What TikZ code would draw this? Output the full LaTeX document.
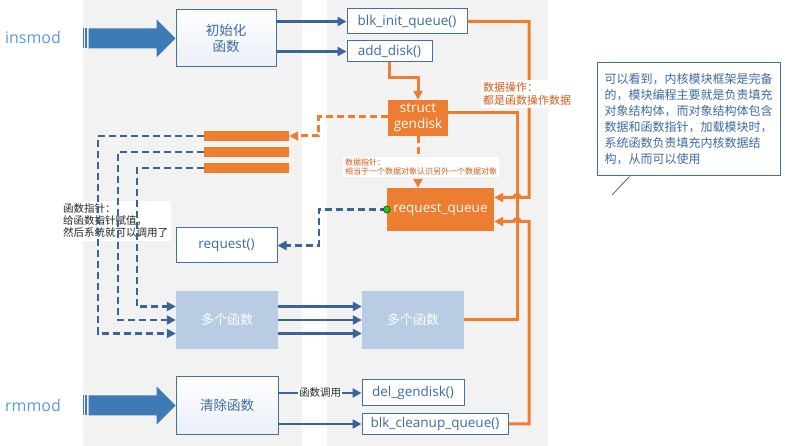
\documentclass[tikz,border=0pt]{standalone}
\usepackage{fontspec}
\setmainfont{Open Sans}
\newfontfamily\cjk{Noto Sans CJK SC}
\usetikzlibrary{arrows.meta}
\definecolor{panelgray}{RGB}{242,242,242}
\definecolor{boxblue}{RGB}{65,113,156}
\definecolor{textblue}{RGB}{62,106,160}
\definecolor{lineblue}{RGB}{58,99,150}
\definecolor{arrowblue}{RGB}{62,123,182}
\definecolor{modblue}{RGB}{91,155,213}
\definecolor{fillblue}{RGB}{184,204,228}
\definecolor{shadeblue}{RGB}{234,240,248}
\definecolor{dataorange}{RGB}{237,125,49}
\definecolor{textorange}{RGB}{205,95,28}
\definecolor{dotgreen}{RGB}{40,190,40}
\tikzset{
  whitebox/.style={draw=boxblue,line width=1pt,fill=white,text=textblue,inner sep=0pt,
    font=\fontsize{13.5}{16}\selectfont},
  modbox/.style={whitebox,minimum width=100pt,minimum height=57pt,align=center,
    top color=white,bottom color=shadeblue,font=\cjk\fontsize{13.5}{15.5}\selectfont},
  funcbox/.style={fill=fillblue,text=white,minimum width=102pt,minimum height=58pt,inner sep=0pt,
    font=\cjk\fontsize{13}{15}\selectfont},
  databox/.style={fill=dataorange,text=white,inner sep=0pt,font=\fontsize{13.5}{16}\selectfont},
  bar/.style={fill=dataorange,minimum width=85pt,minimum height=10pt,inner sep=0pt},
  modtext/.style={text=modblue,inner sep=0pt,font=\fontsize{16}{18}\selectfont},
  datatext/.style={fill=white,text=textorange,align=left,inner sep=2pt,
    font=\cjk\fontsize{11}{13}\selectfont},
  calltext/.style={fill=white,text=black!85,inner sep=1pt,font=\cjk\fontsize{10.5}{12}\selectfont},
  notebox/.style={draw=boxblue,line width=1pt,fill=white,text=textblue,align=left,
    minimum width=183pt,minimum height=113pt,inner sep=0pt,font=\cjk\fontsize{12}{16}\selectfont},
  callline/.style={draw=lineblue,line width=2.6pt,->},
  ptrline/.style={callline,dash pattern=on 7pt off 4pt},
  datawire/.style={draw=dataorange,line width=3pt},
  dataline/.style={datawire,->},
  dataptrline/.style={dataline,dash pattern=on 7pt off 4pt},
  bigarrow/.style={fill=arrowblue}
}
\begin{document}
\begin{tikzpicture}[x=1pt,y=-1pt,>={Triangle[length=9pt,width=9pt]}]
\useasboundingbox (0,0) rectangle (785,446);
\fill[panelgray] (83,0) rectangle (302,446);
\fill[panelgray] (327,0) rectangle (548,446);

% label under the pointer lines
\node[calltext,anchor=west,align=left,inner sep=3pt] (fnlabel) at (60,221) {函数指针：\\给函数指针赋值，\\然后系统就可以调用了};

% nodes
\node[modtext] (insmodtxt) at (33,38) {insmod};
\node[modtext] (rmmodtxt) at (33,405) {rmmod};
\node[modbox] (init) at (226,38.5) {初始化\\函数};
\node[modbox,minimum width=102pt] (clean) at (227,405.5) {清除函数};
\node[whitebox,minimum width=120pt,minimum height=25pt] (blkinit) at (407,21.5) {blk\_init\_queue()};
\node[whitebox,minimum width=85pt,minimum height=21pt] (adddisk) at (389.5,51.5) {add\_disk()};
\node[databox,minimum width=60pt,minimum height=36pt,align=center] (gendisk) at (418,118) {struct\\gendisk};
\node[bar] (bar1) at (246.5,136) {};
\node[bar] (bar2) at (246.5,152) {};
\node[bar] (bar3) at (246.5,168) {};
\node[databox,minimum width=107pt,minimum height=43pt] (rq) at (440.5,209.5) {request\_queue};
\node[whitebox,minimum width=101pt,minimum height=35pt] (req) at (226.5,245.5) {request()};
\node[funcbox] (multiL) at (227,320) {多个函数};
\node[funcbox] (multiR) at (413,320) {多个函数};
\node[whitebox,minimum width=102pt,minimum height=26pt] (delgd) at (413,393) {del\_gendisk()};
\node[whitebox,minimum width=146pt,minimum height=20pt] (blkclean) at (435,424) {blk\_cleanup\_queue()};
\node[notebox] (note) at (688.5,119.5) {可以看到，内核模块框架是完备\\的，模块编程主要就是负责填充\\对象结构体，而对象结构体包含\\数据和函数指针，加载模块时，\\系统函数负责填充内核数据结\\构，从而可以使用};
\coordinate (notetip) at (612,195);
\draw[black!70,line width=0.7pt] ([xshift=33pt]note.south west) -- (notetip);

% insmod / rmmod
\foreach \tgt in {init,clean} {
  \fill[bigarrow] (\tgt.west) -- ++(-19,-19) -- ++(0,9) -- ++(-68,0) -- ++(0,20) -- ++(68,0) -- ++(0,9) -- cycle;
  \fill[bigarrow] ([shift={(-93,-10)}]\tgt.west) rectangle ++(1.5,20);
  \fill[bigarrow] ([shift={(-90.5,-10)}]\tgt.west) rectangle ++(1.5,20);
}

% calls
\draw[callline] (init.east |- blkinit) -- (blkinit);
\draw[callline] (init.east |- adddisk) -- (adddisk);
\foreach \dy in {-13.5,0,13.5}
  \draw[callline] ([shift={(0,\dy)}]multiL.east) -- ([shift={(0,\dy)}]multiR.west);
\draw[callline] (clean.east |- delgd) -- (delgd) node[midway,calltext] (calllabel) {函数调用};
\draw[callline] (clean.east |- blkclean) -- (blkclean);

% function pointers
\draw[ptrline] (bar1.west) -- ++(-106,0) |- ([shift={(0,13.5)}]multiL.west);
\draw[ptrline] (bar2.west) -- ++(-86,0) |- (multiL.west);
\draw[ptrline] (bar3.west) -- ++(-67,0) |- ([shift={(0,-13.5)}]multiL.west);
\draw[ptrline] (rq.west) -- ++(-68,0) |- (req);
\filldraw[fill=dotgreen,draw=green!35!black,line width=0.6pt] (rq.west) circle (3.5pt);

% data
\coordinate (mx) at (517,0);
\coordinate (rx) at (529,0);
\coordinate (rqin) at ([shift={(0,-12)}]rq.east);
\coordinate (rqlow) at ([shift={(0,12)}]rq.east);
\coordinate (hop1) at (mx |- rqin);
\coordinate (hop2) at (mx |- rqlow);
\coordinate (gdout) at ([shift={(0,-5)}]gendisk.east);
\draw[datawire] (gdout) -- (mx |- gdout) -- (mx |- multiR) -- (multiR);
\draw[dataline] (blkinit) -- (blkinit -| rx) -- (rx |- rqin) -- ([xshift=3pt]hop1)
  arc[start angle=0,end angle=180,radius=3pt] -- (rqin);
\draw[dataline] (blkclean) -- (blkclean -| rx) -- (rx |- rqlow) -- ([xshift=3pt]hop2)
  arc[start angle=0,end angle=180,radius=3pt] -- (rqlow);
\draw[dataline] (adddisk.south) -- ++(0,15) -| (gendisk.north);
\draw[dataptrline] ([shift={(0,-1)}]gendisk.west) -- ++(-69,0) |- (bar1);
\draw[dataptrline] (gendisk.south) -- (gendisk.south |- rq.north);

\node[datatext,anchor=west] (oplabel) at (481,94) {数据操作：\\都是函数操作数据};
\node[datatext,anchor=west,font=\cjk\fontsize{8}{9.5}\selectfont] (ptrlabel) at (343,167) {数据指针：\\相当于一个数据对象认识另外一个数据对象};
\end{tikzpicture}
\end{document}
